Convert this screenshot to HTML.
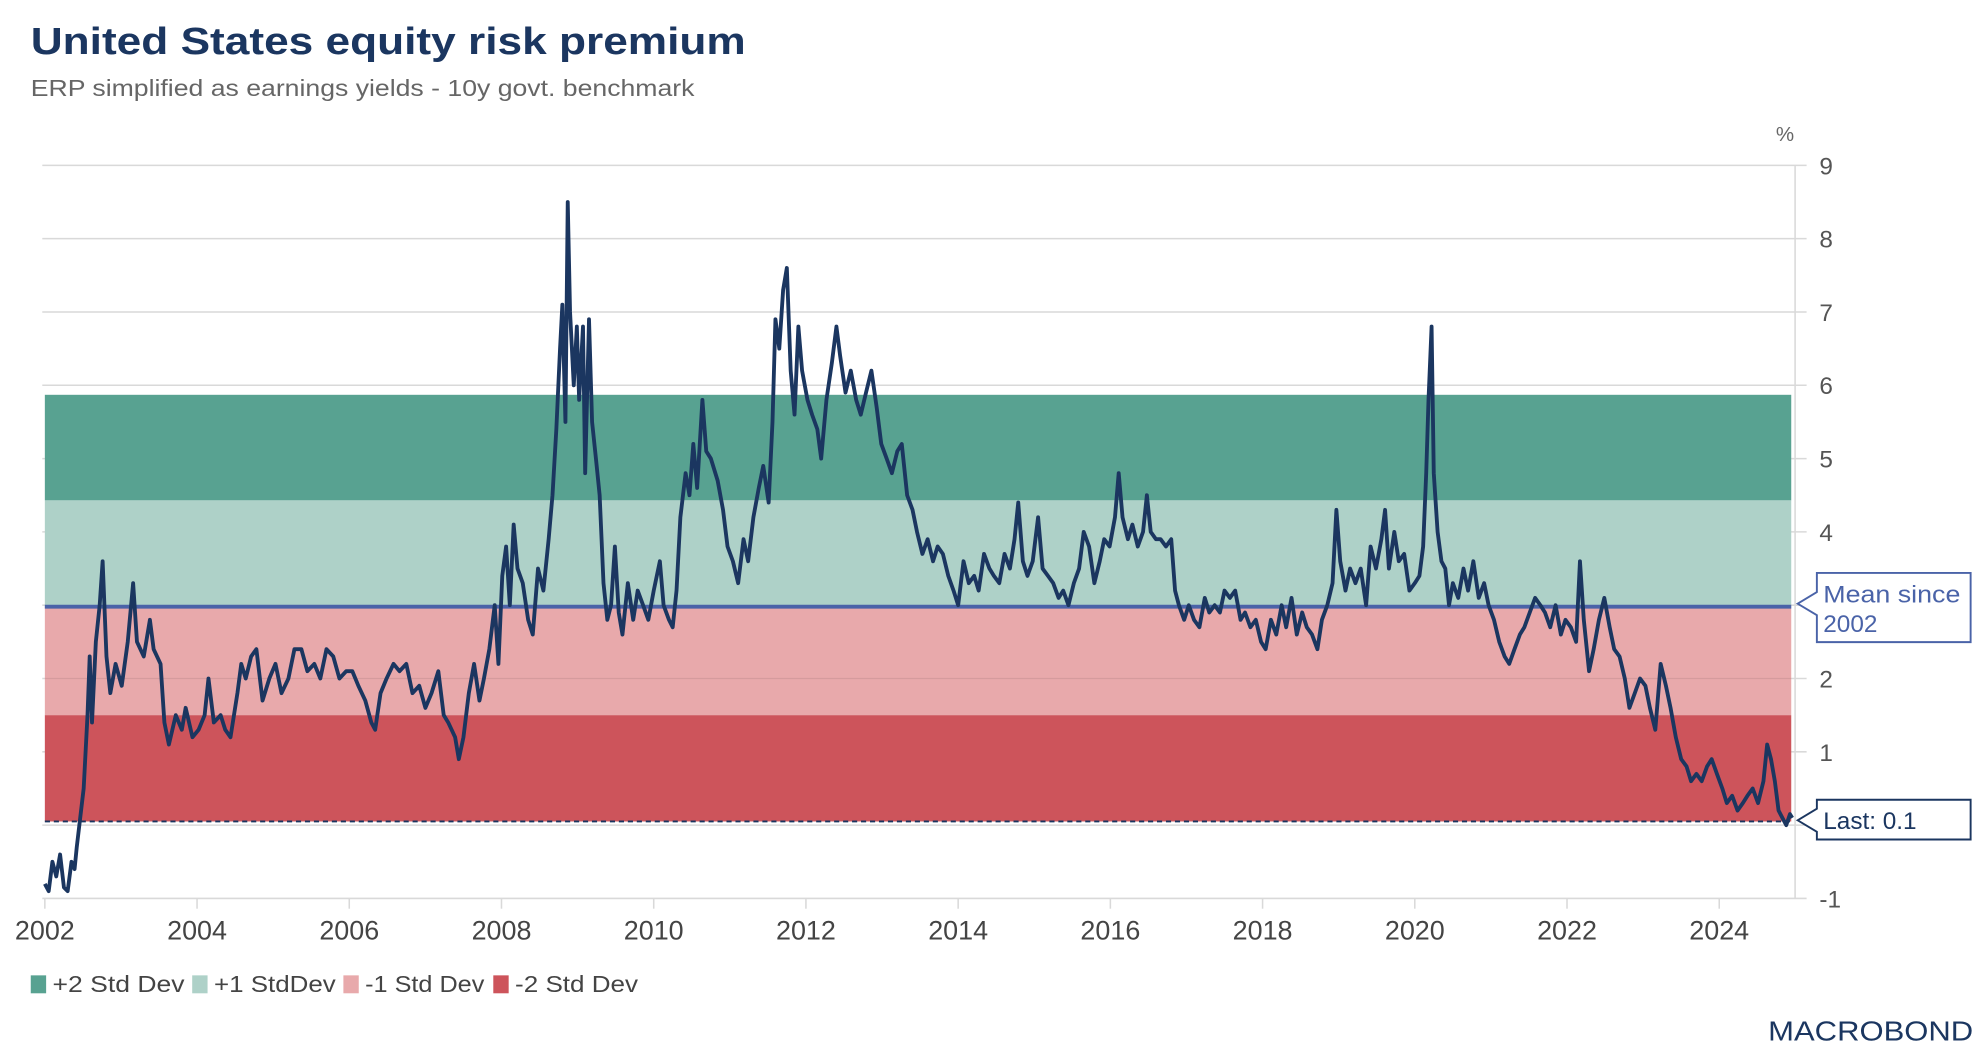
<!DOCTYPE html>
<html><head><meta charset="utf-8">
<style>
html,body{margin:0;padding:0;background:#fff;}
svg{display:block;font-family:"Liberation Sans",sans-serif;}
</style></head>
<body>
<svg id="chart" width="1986" height="1042" viewBox="0 0 1550 813" preserveAspectRatio="none" xmlns="http://www.w3.org/2000/svg">
<text x="24" y="42" font-size="30" font-weight="bold" fill="#1b3660" textLength="558" lengthAdjust="spacingAndGlyphs">United States equity risk premium</text>
<text x="24" y="75" font-size="18" fill="#666" textLength="518" lengthAdjust="spacingAndGlyphs">ERP simplified as earnings yields - 10y govt. benchmark</text>
<text x="1386" y="110" font-size="16" fill="#666">%</text>
<g id="grid"></g>
<g id="bands"></g>
<g id="series"></g>
<g id="axes"></g>
<g>
<path d="M1403,471 L1418,462 L1418,447 L1538,447 L1538,501 L1418,501 L1418,480 Z" fill="#fff" stroke="#4a63a8" stroke-width="1.5"/>
<text x="1423" y="470" font-size="19" fill="#4a63a8" textLength="107" lengthAdjust="spacingAndGlyphs">Mean since</text>
<text x="1423" y="493" font-size="19" fill="#4a63a8">2002</text>
</g>
<g>
<path d="M1403,640 L1418,631 L1418,624 L1538,624 L1538,655 L1418,655 L1418,649 Z" fill="#fff" stroke="#1b3660" stroke-width="1.5"/>
<text x="1423" y="647" font-size="19" fill="#1b3660">Last: 0.1</text>
</g>
<g id="legend"></g>
<text x="1540" y="812" text-anchor="end" font-size="22" fill="#1b3660" textLength="160" lengthAdjust="spacingAndGlyphs">MACROBOND</text>
</svg>
<script>
const yTicks=[9,8,7,6,5,4,3,2,1,0,-1];
const yTickLabels=["9","8","7","6","5","4","","2","1","","-1"];
const xTicks=[2002,2004,2006,2008,2010,2012,2014,2016,2018,2020,2022,2024];
const bandLabels=["+2 Std Dev","+1 StdDev","-1 Std Dev","-2 Std Dev"];
const bandTops=[5.87,4.43,2.98,1.5];
const bandBottoms=[4.43,2.98,1.5,0.05];
const meanValue=2.98;
const lastValue=0.05;
const yearsSince2002=[0,.05,.10,.15,.20,.25,.30,.35,.39,.42,.51,.56,.59,.62,.67,.72,.76,.81,.86,.93,1.01,1.09,1.16,1.21,1.30,1.38,1.43,1.52,1.57,1.63,1.72,1.80,1.85,1.94,2.02,2.10,2.15,2.22,2.31,2.37,2.44,2.53,2.58,2.64,2.71,2.78,2.86,2.95,3.03,3.11,3.20,3.28,3.37,3.45,3.54,3.62,3.70,3.79,3.87,3.96,4.04,4.12,4.21,4.29,4.34,4.41,4.49,4.58,4.66,4.75,4.83,4.92,5.00,5.08,5.17,5.24,5.30,5.39,5.44,5.50,5.57,5.64,5.71,5.77,5.84,5.91,5.96,6.01,6.06,6.11,6.16,6.21,6.28,6.35,6.41,6.48,6.55,6.62,6.67,6.72,6.77,6.80,6.84,6.87,6.90,6.95,6.99,7.02,7.07,7.10,7.15,7.19,7.24,7.29,7.34,7.39,7.44,7.49,7.54,7.59,7.66,7.73,7.79,7.86,7.93,8.00,8.08,8.13,8.20,8.25,8.30,8.35,8.42,8.47,8.52,8.57,8.64,8.69,8.75,8.84,8.91,8.97,9.04,9.11,9.18,9.24,9.31,9.38,9.44,9.51,9.56,9.60,9.65,9.70,9.75,9.80,9.85,9.90,9.95,10.02,10.08,10.15,10.20,10.27,10.34,10.40,10.45,10.52,10.59,10.66,10.72,10.79,10.86,10.93,10.99,11.06,11.13,11.20,11.26,11.33,11.40,11.46,11.53,11.60,11.67,11.73,11.80,11.87,11.94,12.00,12.07,12.14,12.21,12.27,12.34,12.41,12.47,12.54,12.61,12.68,12.74,12.79,12.85,12.91,12.98,13.05,13.11,13.18,13.25,13.32,13.38,13.45,13.52,13.59,13.65,13.72,13.79,13.86,13.92,13.99,14.06,14.11,14.16,14.23,14.29,14.36,14.43,14.48,14.53,14.60,14.66,14.73,14.80,14.85,14.90,14.97,15.03,15.10,15.17,15.24,15.30,15.37,15.44,15.50,15.57,15.64,15.71,15.77,15.84,15.91,15.98,16.04,16.11,16.18,16.25,16.31,16.38,16.45,16.52,16.58,16.65,16.72,16.78,16.85,16.92,16.97,17.02,17.09,17.15,17.22,17.29,17.36,17.42,17.49,17.56,17.61,17.66,17.73,17.79,17.86,17.93,18.00,18.06,18.11,18.15,18.18,18.22,18.25,18.30,18.35,18.40,18.45,18.50,18.57,18.64,18.70,18.77,18.84,18.91,18.97,19.04,19.11,19.18,19.24,19.31,19.38,19.44,19.51,19.58,19.65,19.71,19.78,19.85,19.92,19.98,20.05,20.12,20.17,20.22,20.29,20.35,20.42,20.49,20.56,20.62,20.69,20.76,20.82,20.89,20.96,21.03,21.09,21.16,21.23,21.30,21.36,21.43,21.50,21.57,21.63,21.70,21.77,21.84,21.90,21.97,22.04,22.10,22.17,22.24,22.31,22.37,22.44,22.51,22.58,22.63,22.68,22.73,22.78,22.83,22.88,22.93,22.96];
const erpValues=[-0.8,-0.9,-0.5,-0.7,-0.4,-0.85,-0.9,-0.5,-0.6,-0.3,0.5,1.5,2.3,1.4,2.5,3.0,3.6,2.3,1.8,2.2,1.9,2.5,3.3,2.5,2.3,2.8,2.4,2.2,1.4,1.1,1.5,1.3,1.6,1.2,1.3,1.5,2.0,1.4,1.5,1.3,1.2,1.8,2.2,2.0,2.3,2.4,1.7,2.0,2.2,1.8,2.0,2.4,2.4,2.1,2.2,2.0,2.4,2.3,2.0,2.1,2.1,1.9,1.7,1.4,1.3,1.8,2.0,2.2,2.1,2.2,1.8,1.9,1.6,1.8,2.1,1.5,1.4,1.2,0.9,1.2,1.8,2.2,1.7,2.0,2.4,3.0,2.2,3.4,3.8,3.0,4.1,3.5,3.3,2.8,2.6,3.5,3.2,3.9,4.5,5.4,6.5,7.1,5.5,8.5,7.0,6.0,6.8,5.8,6.8,4.8,6.9,5.5,5.0,4.5,3.3,2.8,3.0,3.8,2.9,2.6,3.3,2.8,3.2,3.0,2.8,3.2,3.6,3.0,2.8,2.7,3.2,4.2,4.8,4.5,5.2,4.6,5.8,5.1,5.0,4.7,4.3,3.8,3.6,3.3,3.9,3.6,4.2,4.6,4.9,4.4,5.5,6.9,6.5,7.3,7.6,6.2,5.6,6.8,6.2,5.8,5.6,5.4,5.0,5.8,6.3,6.8,6.4,5.9,6.2,5.8,5.6,5.9,6.2,5.7,5.2,5.0,4.8,5.1,5.2,4.5,4.3,4.0,3.7,3.9,3.6,3.8,3.7,3.4,3.2,3.0,3.6,3.3,3.4,3.2,3.7,3.5,3.4,3.3,3.7,3.5,3.9,4.4,3.6,3.4,3.6,4.2,3.5,3.4,3.3,3.1,3.2,3.0,3.3,3.5,4.0,3.8,3.3,3.6,3.9,3.8,4.2,4.8,4.2,3.9,4.1,3.8,4.0,4.5,4.0,3.9,3.9,3.8,3.9,3.2,3.0,2.8,3.0,2.8,2.7,3.1,2.9,3.0,2.9,3.2,3.1,3.2,2.8,2.9,2.7,2.8,2.5,2.4,2.8,2.6,3.0,2.7,3.1,2.6,2.9,2.7,2.6,2.4,2.8,3.0,3.3,4.3,3.6,3.2,3.5,3.3,3.5,3.0,3.8,3.5,3.9,4.3,3.5,4.0,3.6,3.7,3.2,3.3,3.4,3.8,4.8,5.8,6.8,4.8,4.0,3.6,3.5,3.0,3.3,3.1,3.5,3.2,3.6,3.1,3.3,3.0,2.8,2.5,2.3,2.2,2.4,2.6,2.7,2.9,3.1,3.0,2.9,2.7,3.0,2.6,2.8,2.7,2.5,3.6,2.8,2.1,2.4,2.8,3.1,2.7,2.4,2.3,2.0,1.6,1.8,2.0,1.9,1.6,1.3,2.2,1.9,1.6,1.2,0.9,0.8,0.6,0.7,0.6,0.8,0.9,0.7,0.5,0.3,0.4,0.2,0.3,0.4,0.5,0.3,0.6,1.1,0.9,0.6,0.2,0.1,0.0,0.15,0.1];

const NS="http://www.w3.org/2000/svg";
const plotL=35,plotR=1398,gridL=33,gridR=1410;
function xScale(year){return 35+(year-2002)*59.4;}
function yScale(v){return 643.8-v*57.2;}
function mk(tag,attrs,parent){const e=document.createElementNS(NS,tag);for(const k in attrs)e.setAttribute(k,attrs[k]);parent.appendChild(e);return e;}

const grid=document.getElementById('grid');
const axes=document.getElementById('axes');
yTicks.forEach((t,i)=>{
  const g=mk('line',{x1:gridL,x2:gridR,y1:yScale(t),y2:yScale(t),stroke:'#d9d9d9','stroke-width':1.2},grid);
  
  
  const lbl=mk('text',{x:1420,y:yScale(t)+7,'font-size':19,fill:'#555'},axes);
  lbl.textContent=yTickLabels[i];
  
  
});
const vline=mk('line',{x1:1401,x2:1401,y1:yScale(9),y2:yScale(-1),stroke:'#d9d9d9','stroke-width':1.2},grid);


xTicks.forEach(yr=>{
  const x=xScale(yr);
  const tk=mk('line',{x1:x,x2:x,y1:yScale(-1),y2:yScale(-1)+8,stroke:'#d9d9d9','stroke-width':1.2},axes);
  
  
  const lbl=mk('text',{x:x,y:733,'font-size':21,fill:'#444','text-anchor':'middle'},axes);
  lbl.textContent=String(yr);
  
  
});

const bandColors=['#58a291','#aed1c8','#e8a9ab','#cd545b'];
const bands=document.getElementById('bands');
bandTops.forEach((top,i)=>{
  const r=mk('rect',{x:plotL,width:plotR-plotL,y:yScale(top),height:yScale(bandBottoms[i])-yScale(top),fill:bandColors[i]},bands);
  
  
});
const bg=mk('line',{x1:plotL,x2:plotR,y1:yScale(2),y2:yScale(2),stroke:'#000','stroke-opacity':0.08},bands);


const meanLine=mk('line',{x1:plotL,x2:plotR,y1:yScale(meanValue),y2:yScale(meanValue),stroke:'#4a63a8','stroke-width':3},bands);


const lastLine=mk('line',{x1:plotL,x2:plotR,y1:yScale(lastValue),y2:yScale(lastValue),stroke:'#1b3660','stroke-width':1.5,'stroke-dasharray':'4 3'},bands);



const series=document.getElementById('series');
let d='';
yearsSince2002.forEach((t,i)=>{d+=(i?'L':'M')+xScale(2002+t).toFixed(1)+','+yScale(erpValues[i]).toFixed(1);});
const path=mk('path',{d:d,fill:'none',stroke:'#1b3660','stroke-width':3,'stroke-linejoin':'round'},series);



const legend=document.getElementById('legend');
const legendX=[24,150,268,385];
const legendW=[103,95,93,96];
bandLabels.forEach((lab,i)=>{
  const r=mk('rect',{x:legendX[i],y:761,width:12,height:14,fill:bandColors[i]},legend);
  
  
  const t=mk('text',{x:legendX[i]+17,y:774,'font-size':18,fill:'#444',textLength:legendW[i],lengthAdjust:'spacingAndGlyphs'},legend);
  t.textContent=lab;
  
  
});
</script>
</body></html>
